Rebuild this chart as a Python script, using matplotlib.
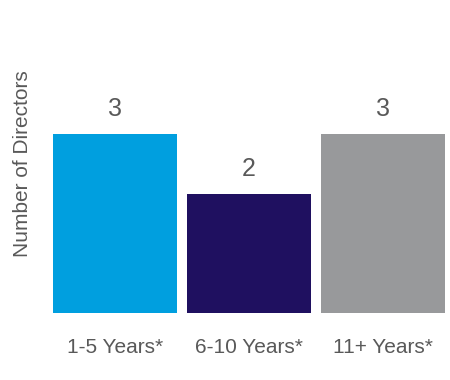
import matplotlib.pyplot as plt

plt.rcParams['font.family'] = ['Liberation Sans', 'DejaVu Sans']

categories = ['1-5 Years*', '6-10 Years*', '11+ Years*']
values = [3, 2, 3]
colors = ['#009fdf', '#1f1060', '#98999b']
text_color = '#595959'

fig = plt.figure(figsize=(4.5, 3.8), dpi=100)
ax = fig.add_axes([53 / 450, 67 / 380, 392 / 450, 298 / 380])

x = list(range(len(categories)))
bars = ax.bar(x, values, width=0.925, color=colors)

for xi, v in zip(x, values):
    ax.annotate(str(v), (xi, v), xytext=(0, 13), textcoords='offset points',
                ha='center', va='baseline', fontsize=18, color=text_color)

ax.set_xlim(-0.4627, 2.4627)
ax.set_ylim(0, 5)
ax.set_xticks(x)
ax.set_xticklabels(categories, fontsize=15, color=text_color)
ax.tick_params(axis='x', length=0, pad=18)
ax.set_yticks([])
for s in ax.spines.values():
    s.set_visible(False)

ax.set_ylabel('Number of Directors', fontsize=15, color=text_color)
ax.yaxis.set_label_coords(-0.054, 0.5)

fig.savefig('out.png', dpi=100)
